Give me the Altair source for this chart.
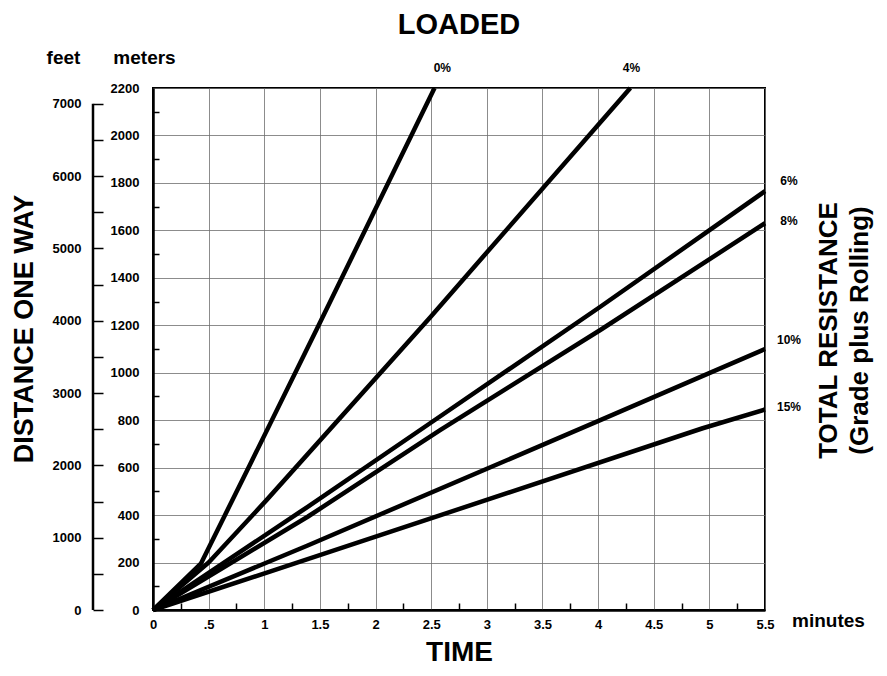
import altair as alt
import pandas as pd

# ---- data ----
grades = ["0%", "4%", "6%", "8%", "10%", "15%"]
t_0 = [0, 0.43, 0.87, 1.49, 2.53]
m_0 = [0, 195, 611, 1201, 2200]
t_4 = [0, 0.5, 1.02, 2.49, 4.29]
m_4 = [0, 200, 463, 1233, 2200]
t_6 = [0, 1.39, 2.49, 4.02, 5.5]
m_6 = [0, 435, 787, 1278, 1765]
t_8 = [0, 1.39, 2.58, 4.02, 5.5]
m_8 = [0, 393, 758, 1180, 1630]
t_10 = [0, 1.39, 4.02, 5.5]
m_10 = [0, 272, 800, 1100]
t_15 = [0, 1.39, 4.94, 5.5]
m_15 = [0, 214, 766, 845]

# grade label anchor points (minutes, meters)
label_t = [2.6, 4.3, 5.716, 5.716, 5.716, 5.716]
label_m = [2283, 2283, 1807, 1639, 1137, 855]

time_ticks = [0, 0.5, 1, 1.5, 2, 2.5, 3, 3.5, 4, 4.5, 5, 5.5]
time_minor = [0.25, 0.75, 1.25, 1.75, 2.25, 2.75, 3.25, 3.75, 4.25, 4.75, 5.25]
meter_ticks = [0, 200, 400, 600, 800, 1000, 1200, 1400, 1600, 1800, 2000, 2200]
meter_minor = [100, 300, 500, 700, 900, 1100, 1300, 1500, 1700, 1900, 2100]
feet_ticks = [0, 500, 1000, 1500, 2000, 2500, 3000, 3500, 4000, 4500, 5000, 5500, 6000, 6500, 7000]

FEET_PER_M = 1 / 0.3048
FONT = "Liberation Sans"
W, H = 612, 522

rows = []
for g, ts, ms in zip(grades, [t_0, t_4, t_6, t_8, t_10, t_15],
                     [m_0, m_4, m_6, m_8, m_10, m_15]):
    for i, (t, m) in enumerate(zip(ts, ms)):
        rows.append({"grade": g, "t": t, "m": m, "o": i})
df = pd.DataFrame(rows)
lab_df = pd.DataFrame({"grade": grades, "t": label_t, "m": label_m})
feet_df = pd.DataFrame({"f0": [feet_ticks[0]], "f1": [feet_ticks[-1]]})
dist_df = pd.DataFrame({"txt": ["DISTANCE ONE WAY"]})

xscale = alt.Scale(domain=[0, 5.5], nice=False, zero=False)
yscale = alt.Scale(domain=[0, 2200], nice=False)

common_lab = dict(labelFont=FONT, labelFontSize=13, labelFontWeight="bold",
                  labelColor="black")
common_title = dict(titleFont=FONT, titleFontWeight="bold", titleColor="black")

lines = alt.Chart(df).mark_line(color="black", strokeWidth=4.5,
                                strokeJoin="round").encode(
    x=alt.X("t:Q", scale=xscale, axis=alt.Axis(
        values=time_ticks, format="~g",
        labelExpr="datum.value == 0.5 ? '.5' : datum.label",
        grid=True, gridColor="#6f6f6f", gridWidth=0.8,
        ticks=False, domainColor="black", domainWidth=2.5,
        labelPadding=8, labelFlush=False, labelOverlap=False,
        title="TIME", titleFontSize=28, titleY=42, titleBaseline="middle",
        **common_lab, **common_title)),
    y=alt.Y("m:Q", scale=yscale, axis=alt.Axis(
        values=meter_ticks, format="d",
        grid=True, gridColor="#6f6f6f", gridWidth=0.8,
        ticks=False, domainColor="black", domainWidth=2.5,
        labelPadding=14, labelFlush=False, labelOverlap=False,
        title="meters", titleX=-9, titleY=-31, titleAngle=0,
        titleAlign="center", titleBaseline="middle", titleFontSize=19,
        **common_lab, **common_title)),
    detail="grade:N",
    order="o:Q",
)

labels = alt.Chart(lab_df).mark_text(
    font=FONT, fontSize=12, fontWeight="bold", color="black",
    align="center", baseline="middle").encode(
    x=alt.X("t:Q", scale=xscale, axis=alt.Axis(
        orient="top", offset=-H, values=time_minor, labels=False,
        domain=False, grid=False, ticks=True, tickSize=7, tickWidth=1.5,
        tickColor="black",
        title="minutes", titleX=675, titleY=10, titleAngle=0,
        titleAlign="center", titleBaseline="middle", titleFontSize=19,
        **common_title)),
    y=alt.Y("m:Q", scale=yscale, axis=alt.Axis(
        orient="right", offset=-W, values=meter_minor, labels=False,
        domain=False, grid=False, ticks=True, tickSize=6, tickWidth=1.5,
        tickColor="black",
        title=["TOTAL RESISTANCE", "(Grade plus Rolling)"],
        titleX=662, titleY=242, titleAngle=270, titleAlign="center",
        titleBaseline="top", titleFontSize=26, titleLineHeight=31,
        **common_title)),
    text="grade:N",
)

feet = alt.Chart(feet_df).mark_rule(color="black", strokeWidth=2.5).encode(
    x=alt.value(-60),
    y=alt.Y("f0:Q", scale=alt.Scale(domain=[0, 2200 * FEET_PER_M], nice=False),
            axis=alt.Axis(
                orient="right", offset=-(W + 60), values=feet_ticks, format="d",
                labelExpr="datum.value % 1000 == 0 ? datum.label : ''",
                domain=False, grid=False, ticks=True, tickSize=10,
                tickWidth=1.5, tickColor="black",
                labelAlign="right", labelPadding=-22, labelBaseline="middle",
                labelOverlap=False, labelFlush=False,
                title="feet", titleX=-30, titleY=-31, titleAngle=0,
                titleAlign="center", titleBaseline="middle", titleFontSize=19,
                **common_lab, **common_title)),
    y2="f1:Q",
)

dist = alt.Chart(dist_df).mark_text(
    angle=270, font=FONT, fontSize=27, fontWeight="bold", color="black",
    align="center", baseline="middle").encode(
    x=alt.value(-128), y=alt.value(241), text="txt:N")

chart = alt.layer(lines, labels, feet, dist).resolve_scale(
    x="independent", y="independent"
).properties(
    width=W, height=H,
    autosize=alt.AutoSizeParams(type="none"),
    padding={"left": 145, "top": 80, "right": 114, "bottom": 58},
    title=alt.TitleParams("LOADED", font=FONT, fontSize=29, fontWeight="bold",
                          color="black", anchor="middle", frame="group",
                          offset=8),
).configure_view(stroke="black", strokeWidth=2)

chart.save("out.html", embed_options={"renderer": "svg", "actions": False})
